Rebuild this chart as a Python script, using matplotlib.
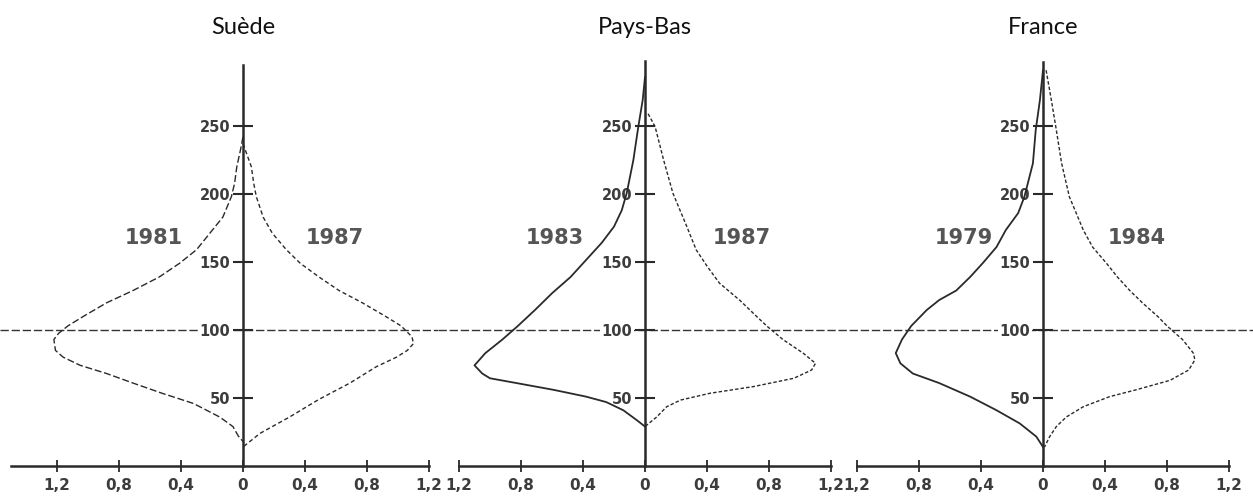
import numpy as np
import matplotlib.pyplot as plt

from matplotlib import rcParams

rcParams["font.family"] = "DejaVu Sans"

# --- data -----------------------------------------------------------------
countries = ["Suède", "Pays-Bas", "France"]
years_left = ["1981", "1983", "1979"]
years_right = ["1987", "1987", "1984"]

xtick_vals = [-1.2, -0.8, -0.4, 0, 0.4, 0.8, 1.2]
xtick_labels = ["1,2", "0,8", "0,4", "0", "0,4", "0,8", "1,2"]
ytick_vals = [50, 100, 150, 200, 250]

# Suède
se_81_y = [242, 232, 220, 208, 198, 183, 171, 159, 149, 139, 129, 120, 110, 103, 97.5, 93, 85, 80, 74, 68, 61, 53.4, 46, 36, 29, 22, 18]
se_81_w = [0.0, 0.017, 0.04, 0.054, 0.075, 0.13, 0.215, 0.30, 0.41, 0.54, 0.71, 0.88, 1.03, 1.13, 1.19, 1.22, 1.21, 1.16, 1.05, 0.88, 0.71, 0.52, 0.32, 0.15, 0.065, 0.03, 0.0]
se_87_y = [237, 220, 208, 198, 183, 171, 159, 149, 139, 129, 120, 110, 103, 95, 90, 85, 80, 73, 61, 49, 36, 24, 14]
se_87_w = [0.0, 0.054, 0.069, 0.086, 0.13, 0.19, 0.28, 0.37, 0.49, 0.62, 0.77, 0.92, 1.02, 1.09, 1.10, 1.06, 0.99, 0.86, 0.69, 0.49, 0.30, 0.11, 0.0]

# Pays-Bas
nl_83_y = [286, 269, 249.6, 225, 200.6, 188, 176, 164, 151.5, 139, 127, 114.7, 103, 93, 83, 74, 68, 64.5, 61, 56, 51, 47, 41, 33.8, 29]
nl_83_w = [0.0, 0.015, 0.043, 0.075, 0.118, 0.15, 0.20, 0.28, 0.38, 0.48, 0.60, 0.71, 0.82, 0.92, 1.03, 1.10, 1.05, 1.00, 0.83, 0.59, 0.38, 0.25, 0.14, 0.054, 0.0]
nl_87_y = [259, 249.6, 225, 200.6, 176, 159, 147, 134.5, 122, 110, 103, 93, 83, 75.5, 70.6, 64.5, 58.4, 53.5, 48.5, 43.6, 36, 29]
nl_87_w = [0.02, 0.065, 0.12, 0.18, 0.27, 0.33, 0.40, 0.48, 0.61, 0.72, 0.785, 0.89, 1.02, 1.10, 1.075, 0.96, 0.70, 0.42, 0.23, 0.14, 0.075, 0.0]

# France
fr_79_y = [291, 269, 247, 222.6, 198, 186, 173.5, 161, 149, 139, 129, 122, 114.7, 103, 93, 83, 75.5, 68, 61, 51, 41, 31.3, 21.6, 14]
fr_79_w = [0.0, 0.02, 0.047, 0.065, 0.12, 0.16, 0.24, 0.30, 0.39, 0.47, 0.56, 0.67, 0.75, 0.85, 0.91, 0.95, 0.92, 0.84, 0.67, 0.47, 0.30, 0.15, 0.043, 0.0]
fr_84_y = [291, 269, 247, 222.6, 198, 173.5, 161, 149, 139, 129, 119.6, 110, 103, 93, 83, 78, 70.6, 63, 56, 51, 43.6, 36, 29, 21.6, 14]
fr_84_w = [0.02, 0.054, 0.086, 0.12, 0.17, 0.26, 0.32, 0.41, 0.48, 0.56, 0.645, 0.74, 0.80, 0.90, 0.97, 0.98, 0.94, 0.82, 0.60, 0.43, 0.26, 0.15, 0.086, 0.043, 0.01]

left_curves = [(se_81_y, se_81_w), (nl_83_y, nl_83_w), (fr_79_y, fr_79_w)]
right_curves = [(se_87_y, se_87_w), (nl_87_y, nl_87_w), (fr_84_y, fr_84_w)]

year_x_left = [-0.574, -0.58, -0.51]
year_x_right = [0.594, 0.626, 0.606]

# --- layout (pixels of a 1253x498 canvas) ----------------------------------
W, H = 1253, 498
px_unit = 155.0          # pixels per unit on x
py_unit = 1.36           # pixels per unit on y
y0_px = 466              # pixel row of y = 0
panel_px = [(0, 438, 243), (438, 838, 645), (838, 1253, 1043)]
axis_top = [295, 298, 297]
xaxis_left = [-1.5, -1.2, -1.2]

left_styles = [dict(ls=(0, (5, 2)), lw=1.0), dict(ls="-", lw=1.3), dict(ls="-", lw=1.3)]
right_styles = [dict(ls=(0, (3, 2)), lw=1.0), dict(ls=(0, (2.5, 1.5)), lw=1.0), dict(ls=(0, (2.5, 1.5)), lw=1.0)]

ink = "#2a2a2a"

fig = plt.figure(figsize=(W / 100, H / 100), dpi=100)

ymin = -(H - y0_px) / py_unit
ymax = y0_px / py_unit

for i in range(3):
    l, r, a = panel_px[i]
    ax = fig.add_axes([l / W, 0, (r - l) / W, 1])
    ax.set_xlim(-(a - l) / px_unit, (r - a) / px_unit)
    ax.set_ylim(ymin, ymax)
    ax.patch.set_alpha(0)

    ax.axhline(100, color="#333333", lw=1.0, ls=(0, (6, 2)), zorder=1)

    ly, lw_ = left_curves[i]
    ax.plot(-np.array(lw_), ly, color=ink, zorder=3, **left_styles[i])
    ry, rw = right_curves[i]
    ax.plot(rw, ry, color=ink, zorder=3, **right_styles[i])

    for s in ["top", "right"]:
        ax.spines[s].set_visible(False)
    ax.spines["left"].set_position(("data", 0))
    ax.spines["bottom"].set_position(("data", 0))
    ax.spines["left"].set_bounds(0, axis_top[i])
    ax.spines["bottom"].set_bounds(xaxis_left[i], 1.2)
    for s in ["left", "bottom"]:
        ax.spines[s].set_linewidth(1.8)
        ax.spines[s].set_color(ink)
        ax.spines[s].set_zorder(4)

    ax.set_xticks(xtick_vals, xtick_labels)
    ax.set_yticks(ytick_vals, [str(v) for v in ytick_vals])
    ax.tick_params(axis="x", direction="inout", length=9, width=1.3, color=ink,
                   labelsize=11, labelcolor="#3c3c3c", pad=4)
    ax.tick_params(axis="y", direction="inout", length=14, width=1.5, color=ink,
                   labelsize=10.5, labelcolor="#3c3c3c", pad=2)
    for lab in ax.get_xticklabels() + ax.get_yticklabels():
        lab.set_fontweight("bold")
    for lab in ax.get_yticklabels():
        if lab.get_text() == "100":
            lab.set_bbox(dict(facecolor="white", edgecolor="none", pad=1))

    ax.text(0, (y0_px - 27) / py_unit, countries[i], ha="center", va="center",
            fontsize=17, family="Lato", color="#111111")
    ax.text(year_x_left[i], 168, years_left[i], ha="center", va="center",
            fontsize=15, fontweight="bold", color="#555555")
    ax.text(year_x_right[i], 168, years_right[i], ha="center", va="center",
            fontsize=15, fontweight="bold", color="#555555")

plt.savefig("out.png", dpi=100)
